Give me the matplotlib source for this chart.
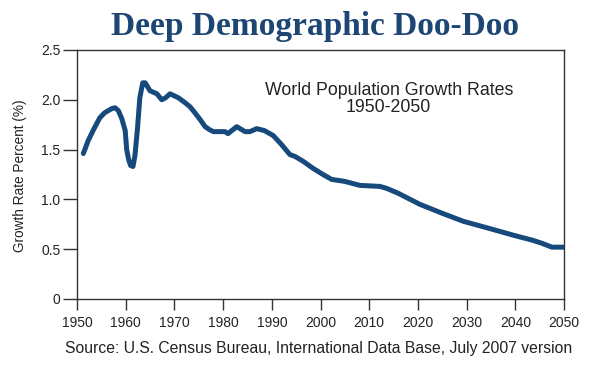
import numpy as np
import matplotlib
matplotlib.use('Agg')
import matplotlib.pyplot as plt

# world population growth rate (%)
years = [1951.3, 1952.3, 1953.5, 1954.7, 1955.7, 1957.1, 1957.8, 1958.5, 1959.2,
         1959.9, 1960.2, 1960.6, 1961.0, 1961.5, 1961.9, 1962.4, 1962.9, 1963.5,
         1964.0, 1965.0, 1966.4, 1967.4, 1968.2, 1969.1, 1970.8, 1972.2, 1973.2,
         1974.2, 1975.3, 1976.3, 1977.2, 1978.0, 1980.4, 1981.0, 1982.8, 1984.5,
         1985.5, 1986.9, 1988.5, 1990.3, 1992.0, 1993.7, 1994.8, 1996.5, 1998.5,
         2000.5, 2002.3, 2005.0, 2008.1, 2012.2, 2013.6, 2016.0, 2020.4, 2025.0,
         2029.3, 2034.5, 2039.6, 2043.5, 2045.4, 2047.5, 2050.0]
rates = [1.46, 1.59, 1.71, 1.82, 1.87, 1.91, 1.92, 1.89, 1.81,
         1.69, 1.50, 1.40, 1.34, 1.33, 1.44, 1.70, 2.02, 2.17,
         2.17, 2.09, 2.06, 2.00, 2.02, 2.06, 2.02, 1.97, 1.93,
         1.87, 1.80, 1.73, 1.70, 1.68, 1.68, 1.66, 1.73, 1.68,
         1.68, 1.71, 1.69, 1.64, 1.55, 1.45, 1.43, 1.38, 1.31,
         1.25, 1.20, 1.18, 1.14, 1.13, 1.11, 1.06, 0.95, 0.86,
         0.78, 0.71, 0.64, 0.59, 0.56, 0.52, 0.52]

xticks = list(range(1950, 2051, 10))
yticks = [0, 0.5, 1.0, 1.5, 2.0, 2.5]
ytick_labels = ['0', '0.5', '1.0', '1.5', '2.0', '2.5']

line_color = '#174a7c'
title_color = '#1d4674'

plt.rcParams['font.family'] = ['Liberation Sans', 'DejaVu Sans']

fig = plt.figure(figsize=(5.9, 3.7), dpi=100)
ax = fig.add_axes([0.1305, 0.192, 0.8255, 0.673])

ax.plot(years, rates, color=line_color, linewidth=3.6,
        solid_joinstyle='round', solid_capstyle='round')

ax.set_xlim(1950, 2050)
ax.set_ylim(0, 2.5)
ax.set_xticks(xticks)
ax.set_yticks(yticks)
ax.set_yticklabels(ytick_labels)
ax.tick_params(direction='out', width=1, colors='#333333',
               labelsize=10, labelcolor='#222222')
ax.tick_params(axis='y', length=10, pad=2)
ax.tick_params(axis='x', length=8, pad=4)
for s in ax.spines.values():
    s.set_color('#333333')
    s.set_linewidth(1)

fig.text(20 / 590, 1 - 176 / 370, 'Growth Rate Percent (%)', rotation=90,
         ha='center', va='center', fontsize=9.8, color='#222222')

ax.text(0.64, 0.803, 'World Population Growth Rates\n1950-2050',
        transform=ax.transAxes, ha='center', va='center', fontsize=12.8,
        color='#222222', linespacing=1.05)

fig.text(315 / 590, 1 - 35 / 370, 'Deep Demographic Doo-Doo', ha='center',
         va='baseline', fontsize=24, fontweight='bold', color=title_color,
         family=['Liberation Serif', 'DejaVu Serif'])

fig.text(319 / 590, 1 - 348 / 370,
         'Source: U.S. Census Bureau, International Data Base, July 2007 version',
         ha='center', va='center', fontsize=11.3, color='#222222')

fig.savefig('out.png', dpi=100)
